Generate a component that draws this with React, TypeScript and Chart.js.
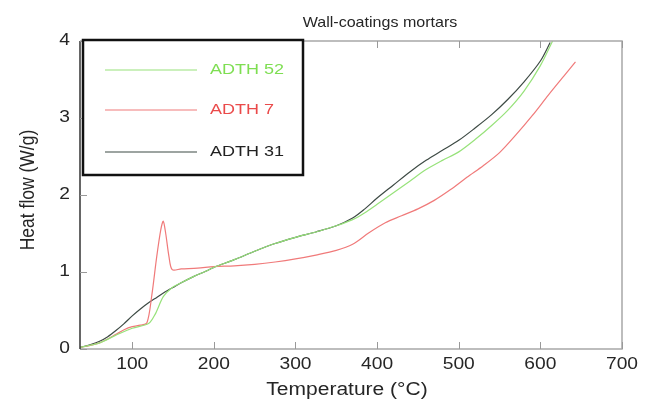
import React, { useEffect, useRef } from "react";
import { Chart, registerables } from "chart.js";

Chart.register(...registerables);

// DSC heat-flow curves for three wall-coating mortar samples
const seriesNames = ["ADTH 52", "ADTH 7", "ADTH 31"];
const seriesColors = ["#97e27a", "#f07a7a", "#3d4a44"];
const legendTextColors = ["#7ede52", "#ea4a4a", "#222222"];

const tempsA52 = [36, 60, 80, 100, 120, 128, 138, 148, 160, 175, 190, 200, 225, 250, 275, 300, 325, 350, 370, 385, 400, 420, 440, 460, 480, 500, 520, 540, 560, 580, 600, 615];
const heatA52 = [0.02, 0.08, 0.18, 0.27, 0.33, 0.45, 0.68, 0.79, 0.86, 0.94, 1.01, 1.06, 1.16, 1.27, 1.37, 1.45, 1.52, 1.6, 1.68, 1.77, 1.88, 2.03, 2.18, 2.33, 2.45, 2.56, 2.72, 2.9, 3.1, 3.35, 3.68, 4.0];

const tempsA7 = [36, 50, 60, 70, 80, 90, 100, 110, 118, 124, 130, 135, 138, 141, 145, 149, 160, 180, 200, 225, 250, 275, 300, 325, 350, 370, 390, 410, 430, 450, 470, 490, 510, 530, 550, 570, 590, 610, 630, 643];
const heatA7 = [0.02, 0.05, 0.08, 0.13, 0.19, 0.25, 0.29, 0.31, 0.34, 0.7, 1.2, 1.55, 1.66, 1.5, 1.2, 1.03, 1.04, 1.05, 1.07, 1.08, 1.1, 1.13, 1.17, 1.22, 1.28, 1.36, 1.51, 1.64, 1.73, 1.82, 1.93, 2.07, 2.23, 2.38, 2.55, 2.78, 3.03, 3.3, 3.56, 3.73];

const tempsA31 = [36, 50, 60, 70, 80, 90, 100, 110, 120, 130, 140, 150, 160, 175, 190, 200, 225, 250, 275, 300, 325, 350, 370, 385, 400, 420, 440, 460, 480, 500, 520, 540, 560, 580, 600, 612];
const heatA31 = [0.02, 0.06, 0.1, 0.16, 0.24, 0.33, 0.43, 0.52, 0.6, 0.67, 0.74, 0.8, 0.86, 0.94, 1.01, 1.06, 1.16, 1.27, 1.37, 1.45, 1.52, 1.6, 1.7, 1.82, 1.96, 2.13, 2.3, 2.45, 2.58, 2.71, 2.87, 3.04, 3.24, 3.47, 3.74, 3.98];

const xTicks = [100, 200, 300, 400, 500, 600, 700];
const yTicks = [0, 1, 2, 3, 4];

const chartTitle = "Wall-coatings mortars";
const xTitle = "Temperature (°C)";
const yTitle = "Heat flow (W/g)";

const FONT = "'Liberation Sans', Arial, sans-serif";
const TEXT = "#262626";
const WIDE = 1.2; // glyphs are drawn slightly widened

const toPoints = (xs: number[], ys: number[]) => xs.map((x, i) => ({ x, y: ys[i] }));

function wideText(
  ctx: CanvasRenderingContext2D,
  text: string,
  x: number,
  y: number,
  size: number,
  align: CanvasTextAlign,
  color: string,
  stretch: number = WIDE,
  baseline: CanvasTextBaseline = "middle"
) {
  ctx.save();
  ctx.translate(x, y);
  ctx.scale(stretch, 1);
  ctx.font = `${size}px ${FONT}`;
  ctx.fillStyle = color;
  ctx.textAlign = align;
  ctx.textBaseline = baseline;
  ctx.fillText(text, 0, 0);
  ctx.restore();
}

const framePlugin = {
  id: "frame",
  afterDraw(chart: any) {
    const { ctx, chartArea: a, scales } = chart;
    const xs = scales.x;
    const ys = scales.y;
    ctx.save();

    // frame: dark left axis, grey remaining sides
    ctx.lineWidth = 1.5;
    ctx.strokeStyle = "#a8a8a8";
    ctx.beginPath();
    ctx.moveTo(a.left, a.top);
    ctx.lineTo(a.right, a.top);
    ctx.lineTo(a.right, a.bottom);
    ctx.lineTo(a.left, a.bottom);
    ctx.stroke();
    ctx.strokeStyle = "#333";
    ctx.beginPath();
    ctx.moveTo(a.left, a.top);
    ctx.lineTo(a.left, a.bottom);
    ctx.stroke();

    // inward tick marks
    ctx.strokeStyle = "#999";
    ctx.lineWidth = 1;
    const tl = 7;
    xTicks.forEach((v) => {
      const px = Math.round(xs.getPixelForValue(v)) + 0.5;
      ctx.beginPath();
      ctx.moveTo(px, a.bottom);
      ctx.lineTo(px, a.bottom - tl);
      ctx.moveTo(px, a.top);
      ctx.lineTo(px, a.top + tl);
      ctx.stroke();
    });
    yTicks.forEach((v) => {
      const py = Math.round(ys.getPixelForValue(v)) + 0.5;
      ctx.beginPath();
      ctx.moveTo(a.left, py);
      ctx.lineTo(a.left + tl, py);
      ctx.stroke();
    });

    // tick labels
    xTicks.forEach((v) => wideText(ctx, String(v), xs.getPixelForValue(v), a.bottom + 16, 16, "center", TEXT));
    yTicks.forEach((v) => wideText(ctx, String(v), a.left - 10, ys.getPixelForValue(v), 16, "right", TEXT));

    // titles
    wideText(ctx, chartTitle, 380, 27, 15, "center", TEXT, 1.07, "alphabetic");
    wideText(ctx, xTitle, (a.left + a.right) / 2 - 4, 390, 17.5, "center", TEXT);
    ctx.save();
    ctx.translate(28, 190);
    ctx.rotate(-Math.PI / 2);
    ctx.scale(1, WIDE);
    ctx.font = `17.5px ${FONT}`;
    ctx.fillStyle = TEXT;
    ctx.textAlign = "center";
    ctx.textBaseline = "middle";
    ctx.fillText(yTitle, 0, 0);
    ctx.restore();

    // legend box
    ctx.fillStyle = "#fff";
    ctx.fillRect(83, 40, 220, 135);
    ctx.strokeStyle = "#111";
    ctx.lineWidth = 2.5;
    ctx.strokeRect(83, 40, 220, 135);
    const rows = [70, 110, 152];
    seriesNames.forEach((name, i) => {
      ctx.strokeStyle = seriesColors[i];
      ctx.lineWidth = 1.2;
      ctx.beginPath();
      ctx.moveTo(105, rows[i]);
      ctx.lineTo(197, rows[i]);
      ctx.stroke();
      wideText(ctx, name, 210, rows[i], 15, "left", legendTextColors[i]);
    });

    ctx.restore();
  },
};

export default function App() {
  const ref = useRef<HTMLCanvasElement | null>(null);

  useEffect(() => {
    if (!ref.current) return;
    const chart = new Chart(ref.current, {
      type: "line",
      data: {
        datasets: [
          { label: seriesNames[0], data: toPoints(tempsA52, heatA52), borderColor: seriesColors[0] },
          { label: seriesNames[1], data: toPoints(tempsA7, heatA7), borderColor: seriesColors[1] },
          { label: seriesNames[2], data: toPoints(tempsA31, heatA31), borderColor: seriesColors[2] },
        ].map((d) => ({ ...d, borderWidth: 1.2, pointRadius: 0, tension: 0.3, fill: false })),
      },
      options: {
        animation: false,
        responsive: false,
        maintainAspectRatio: false,
        layout: { padding: { left: 0, right: 35, top: 41, bottom: 0 } },
        plugins: { legend: { display: false }, tooltip: { enabled: false }, title: { display: false } },
        scales: {
          x: {
            type: "linear",
            min: 36,
            max: 700,
            grid: { display: false, drawTicks: false },
            border: { display: false },
            afterBuildTicks: (s: any) => {
              s.ticks = xTicks.map((value) => ({ value }));
            },
            afterFit: (s: any) => {
              s.height = 56;
            },
            ticks: { display: false },
          },
          y: {
            type: "linear",
            min: 0,
            max: 4,
            grid: { display: false, drawTicks: false },
            border: { display: false },
            afterBuildTicks: (s: any) => {
              s.ticks = yTicks.map((value) => ({ value }));
            },
            afterFit: (s: any) => {
              s.width = 80;
            },
            ticks: { display: false },
          },
        },
      },
      plugins: [framePlugin],
    });
    return () => chart.destroy();
  }, []);

  return (
    <div style={{ position: "absolute", left: 0, top: 0, width: 657, height: 405, background: "#fff" }}>
      <canvas ref={ref} width={657} height={405} style={{ display: "block" }} />
    </div>
  );
}
